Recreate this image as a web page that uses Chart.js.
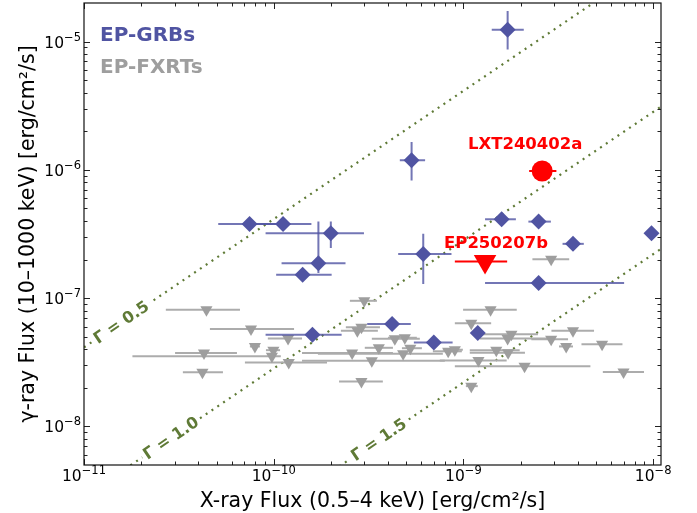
<!DOCTYPE html>
<html>
<head>
<meta charset="utf-8">
<title>EP-GRBs / EP-FXRTs flux plane</title>
<script src="https://cdn.jsdelivr.net/npm/chart.js@4.4.1/dist/chart.umd.min.js"></script>
<style>
  html, body { margin: 0; padding: 0; background: #fff; }
  #wrap { width: 697px; height: 513px; position: relative; }
</style>
</head>
<body>
<div id="wrap"><canvas id="fluxChart"></canvas></div>
<script>
/* ---------- data (erg/cm^2/s) ---------- */

// EP-GRBs: X-ray flux (0.5-4 keV) vs gamma-ray flux (10-1000 keV)
const grbX   = [1.71e-9, 5.33e-10, 7.46e-11, 1.12e-10, 2.00e-10, 1.72e-10, 1.42e-10, 1.60e-10, 4.21e-10, 6.98e-10, 6.14e-10, 1.59e-9, 2.49e-9, 3.78e-9, 9.80e-9, 2.49e-9, 1.19e-9];
const grbY   = [1.24e-5, 1.19e-6, 3.79e-7, 3.79e-7, 3.21e-7, 1.87e-7, 1.52e-7, 5.18e-8, 6.28e-8, 4.51e-8, 2.21e-7, 4.12e-7, 3.95e-7, 2.65e-7, 3.21e-7, 1.31e-7, 5.34e-8];
const grbXLo = [1.41e-9, 4.62e-10, 5.10e-11, 7.50e-11, 9.06e-11, 1.10e-10, 1.03e-10, 9.06e-11, 3.11e-10, 5.48e-10, 4.53e-10, 1.30e-9, 2.20e-9, 3.33e-9, null, 1.30e-9, null];
const grbXHi = [2.08e-9, 6.28e-10, 1.12e-10, 1.58e-10, 2.99e-10, 2.39e-10, 2.02e-10, 2.28e-10, 5.28e-10, 8.77e-10, 8.65e-10, 1.89e-9, 2.89e-9, 4.31e-9, null, 7.03e-9, null];
const grbYLo = [8.67e-6, 8.28e-7, null, null, 2.46e-7, 1.57e-7, null, null, null, null, 1.29e-7, null, null, null, null, null, null];
const grbYHi = [1.73e-5, 1.65e-6, null, null, 3.95e-7, 3.95e-7, null, null, null, null, 3.17e-7, null, null, null, null, null, null];

// EP-FXRTs: gamma-ray upper limits
const fxrtX   = [4.42e-11, 7.59e-11, 1.19e-10, 7.96e-11, 4.29e-11, 9.78e-11, 9.96e-11, 4.21e-11, 1.20e-10, 3.00e-10, 2.76e-10, 2.90e-10, 2.59e-10, 3.29e-10, 2.90e-10, 4.35e-10, 4.91e-10, 3.58e-10, 5.25e-10, 4.81e-10, 8.31e-10, 9.01e-10, 1.39e-9, 1.10e-9, 1.79e-9, 1.71e-9, 1.49e-9, 1.72e-9, 1.20e-9, 2.10e-9, 1.10e-9, 2.90e-9, 3.78e-9, 2.90e-9, 3.48e-9, 5.38e-9, 6.98e-9];
const fxrtY   = [8.11e-8, 5.74e-8, 4.84e-8, 4.20e-8, 3.73e-8, 3.52e-8, 3.93e-8, 2.64e-8, 3.15e-8, 9.53e-8, 5.57e-8, 5.93e-8, 3.73e-8, 3.25e-8, 2.24e-8, 4.82e-8, 4.91e-8, 4.10e-8, 4.07e-8, 3.69e-8, 3.85e-8, 3.96e-8, 8.11e-8, 6.37e-8, 5.23e-8, 4.84e-8, 3.93e-8, 3.75e-8, 3.27e-8, 2.94e-8, 2.06e-8, 2.01e-7, 5.57e-8, 4.78e-8, 4.20e-8, 4.37e-8, 2.66e-8];
const fxrtXLo = [2.70e-11, 4.61e-11, 9.31e-11, 7.49e-11, 3.02e-11, 1.80e-11, 9.10e-11, 3.32e-11, 7.05e-11, 2.52e-10, 2.26e-10, 2.40e-10, 1.41e-10, 1.41e-10, 2.21e-10, 3.29e-10, 4.00e-10, 3.02e-10, 4.74e-10, 1.71e-10, 6.90e-10, 7.79e-10, 9.96e-10, 9.01e-10, 1.22e-9, 1.22e-9, 1.08e-9, 1.08e-9, 7.51e-10, 9.01e-10, 1.03e-9, 2.31e-9, 2.91e-9, 2.28e-9, 3.19e-9, 4.19e-9, 5.43e-9];
const fxrtXHi = [6.64e-11, 1.28e-10, 1.41e-10, 8.46e-11, 6.40e-11, 1.09e-10, 1.08e-10, 5.40e-11, 1.91e-10, 3.50e-10, 3.54e-10, 3.63e-10, 4.25e-10, 7.98e-10, 3.76e-10, 5.89e-10, 5.68e-10, 4.25e-10, 6.04e-10, 7.79e-10, 9.81e-10, 9.93e-10, 1.91e-9, 1.40e-9, 2.47e-9, 2.85e-9, 1.98e-9, 2.11e-9, 1.69e-9, 4.67e-9, 1.19e-9, 3.61e-9, 4.88e-9, 3.56e-9, 3.78e-9, 6.89e-9, 8.95e-9];

// highlighted events
const redNames = ['LXT240402a', 'EP250207b'];
const redX     = [2.60e-9, 1.30e-9];
const redY     = [9.8e-7, 1.93e-7];
const redXLo   = [2.22e-9, 9.01e-10];
const redXHi   = [3.09e-9, 1.70e-9];

// power-law photon index lines: F(10-1000 keV) = ratio * F(0.5-4 keV)
const gammaIndex = ['0.5', '1.0', '1.5'];
const gammaRatio = [4132, 282.9, 22.01];

// axes
const xRange = [1e-11, 1.1e-8];
const yRange = [5e-9, 2e-5];
const xTickValues = [1e-11, 1e-10, 1e-9, 1e-8];
const xTickExp    = ['\u221211', '\u221210', '\u22129', '\u22128'];
const yTickValues = [1e-8, 1e-7, 1e-6, 1e-5];
const yTickExp    = ['\u22128', '\u22127', '\u22126', '\u22125'];

/* ---------- styling ---------- */
const FONT = "'DejaVu Sans', sans-serif";
const BLUE = '#5054a2';
const GREY = '#9e9e9e';
const RED = '#ff0000';
const OLIVE = '#5f7a36';

// where along each Γ line its label sits (x value)
const gammaLabelX = [1.57e-11, 2.87e-11, 3.58e-10];
// label offsets (px) from the red markers
const redLabelOffset = [[-17, -22], [11, -14]];

/* ---------- plugins ---------- */

// horizontal / vertical error bars, drawn just under each dataset's markers
const errorBarPlugin = {
    id: 'errorBars',
    beforeDatasetDraw(chart, args) {
        const ds = chart.data.datasets[args.index];
        if (!ds.errorBars) return;
        const { ctx, chartArea: a, scales: { x, y } } = chart;
        const eb = ds.errorBars;
        ctx.save();
        ctx.beginPath();
        ctx.rect(a.left, a.top, a.right - a.left, a.bottom - a.top);
        ctx.clip();
        ctx.strokeStyle = eb.color;
        ctx.lineWidth = eb.width;
        ds.data.forEach((pt, i) => {
            const px = x.getPixelForValue(pt.x);
            const py = y.getPixelForValue(pt.y);
            ctx.beginPath();
            if (eb.xLo[i] != null) {
                ctx.moveTo(x.getPixelForValue(eb.xLo[i]), py);
                ctx.lineTo(x.getPixelForValue(eb.xHi[i]), py);
            }
            if (eb.yLo && eb.yLo[i] != null) {
                ctx.moveTo(px, y.getPixelForValue(eb.yHi[i]));
                ctx.lineTo(px, y.getPixelForValue(eb.yLo[i]));
            }
            ctx.stroke();
        });
        ctx.restore();
    }
};

// rotated "Γ = n" labels sitting on the dotted lines
const gammaLabelPlugin = {
    id: 'gammaLabels',
    afterDatasetDraw(chart, args) {
        const ds = chart.data.datasets[args.index];
        if (!ds.gammaLabel) return;
        const { ctx, scales: { x, y } } = chart;
        const p0 = ds.data[0], p1 = ds.data[1];
        const ang = Math.atan2(y.getPixelForValue(p1.y) - y.getPixelForValue(p0.y),
                               x.getPixelForValue(p1.x) - x.getPixelForValue(p0.x));
        const lx = x.getPixelForValue(ds.gammaLabel.x);
        const ly = y.getPixelForValue(ds.gammaLabel.x * ds.ratio);
        ctx.save();
        ctx.translate(lx, ly);
        ctx.rotate(ang);
        ctx.font = `bold 16px ${FONT}`;
        const w = ctx.measureText(ds.gammaLabel.text).width;
        ctx.fillStyle = '#fff';
        ctx.fillRect(-w / 2 - 3, -8, w + 6, 16);
        ctx.fillStyle = OLIVE;
        ctx.textAlign = 'center';
        ctx.textBaseline = 'middle';
        ctx.fillText(ds.gammaLabel.text, 0, 1);
        ctx.restore();
    }
};

function minorValues(range) {
    const out = [];
    const lo = Math.floor(Math.log10(range[0])), hi = Math.ceil(Math.log10(range[1]));
    for (let d = lo; d <= hi; d++) {
        for (let k = 2; k <= 9; k++) {
            const v = k * Math.pow(10, d);
            if (v > range[0] && v < range[1]) out.push(v);
        }
    }
    return out;
}

// "10" with a raised exponent, matplotlib style
function drawPow(ctx, exp, x, baseline, align) {
    const base = `15.5px ${FONT}`, sup = `11.5px ${FONT}`;
    ctx.font = base;
    const wb = ctx.measureText('10').width;
    ctx.font = sup;
    const we = ctx.measureText(exp).width;
    const x0 = align === 'center' ? x - (wb + we) / 2 : x - (wb + we);
    ctx.textAlign = 'left';
    ctx.textBaseline = 'alphabetic';
    ctx.font = base;
    ctx.fillText('10', x0, baseline);
    ctx.font = sup;
    ctx.fillText(exp, x0 + wb, baseline - 7);
}

// frame, inward ticks on all sides, tick labels, titles and text labels
const frameAxesPlugin = {
    id: 'frameAxes',
    afterDraw(chart) {
        const { ctx, chartArea: a, scales: { x, y } } = chart;
        ctx.save();

        // ticks
        ctx.strokeStyle = '#222';
        ctx.lineWidth = 1;
        const tick = (vals, len) => {
            vals.forEach(v => {
                const px = Math.round(x.getPixelForValue(v)) + 0.5;
                ctx.moveTo(px, a.bottom); ctx.lineTo(px, a.bottom - len);
                ctx.moveTo(px, a.top); ctx.lineTo(px, a.top + len);
            });
        };
        const ytick = (vals, len) => {
            vals.forEach(v => {
                const py = Math.round(y.getPixelForValue(v)) + 0.5;
                ctx.moveTo(a.left, py); ctx.lineTo(a.left + len, py);
                ctx.moveTo(a.right, py); ctx.lineTo(a.right - len, py);
            });
        };
        ctx.beginPath();
        tick(xTickValues, 6); tick(minorValues(xRange), 3.5);
        ytick(yTickValues, 6); ytick(minorValues(yRange), 3.5);
        ctx.stroke();

        // frame
        ctx.strokeStyle = '#111';
        ctx.lineWidth = 1.2;
        ctx.strokeRect(a.left, a.top, a.right - a.left, a.bottom - a.top);

        // tick labels
        ctx.fillStyle = '#000';
        xTickValues.forEach((v, i) => drawPow(ctx, xTickExp[i], x.getPixelForValue(v), a.bottom + 15.5, 'center'));
        yTickValues.forEach((v, i) => drawPow(ctx, yTickExp[i], a.left - 3, y.getPixelForValue(v) + 6, 'right'));

        // axis titles
        ctx.font = `20.5px ${FONT}`;
        ctx.textAlign = 'center';
        ctx.textBaseline = 'alphabetic';
        ctx.fillText('X-ray Flux (0.5\u20134 keV) [erg/cm\u00b2/s]', (a.left + a.right) / 2, 506.5);
        ctx.save();
        ctx.translate(33.5, (a.top + a.bottom) / 2);
        ctx.rotate(-Math.PI / 2);
        ctx.fillText('\u03b3-ray Flux (10\u20131000 keV) [erg/cm\u00b2/s]', 0, 0);
        ctx.restore();

        // legend text
        ctx.textAlign = 'left';
        ctx.font = `bold 20px ${FONT}`;
        ctx.fillStyle = BLUE;
        ctx.fillText('EP-GRBs', a.left + 16, 41);
        ctx.fillStyle = GREY;
        ctx.fillText('EP-FXRTs', a.left + 16, 72.5);

        // event names next to the red markers
        ctx.textAlign = 'center';
        ctx.font = `bold 16.5px ${FONT}`;
        ctx.fillStyle = RED;
        redNames.forEach((name, i) => {
            const px = x.getPixelForValue(redX[i]), py = y.getPixelForValue(redY[i]);
            ctx.fillText(name, px + redLabelOffset[i][0], py + redLabelOffset[i][1]);
        });

        ctx.restore();
    }
};

/* ---------- datasets ---------- */

const pts = (xs, ys) => xs.map((v, i) => ({ x: v, y: ys[i] }));

const gammaSets = gammaIndex.map((g, i) => ({
    label: 'Γ = ' + g,
    data: [{ x: xRange[0], y: xRange[0] * gammaRatio[i] }, { x: xRange[1], y: xRange[1] * gammaRatio[i] }],
    showLine: true,
    borderColor: OLIVE,
    borderWidth: 2.2,
    borderDash: [2, 5],
    pointRadius: 0,
    order: 3,
    ratio: gammaRatio[i],
    gammaLabel: { text: 'Γ = ' + g, x: gammaLabelX[i] }
}));

new Chart(document.getElementById('fluxChart'), {
    type: 'scatter',
    data: {
        datasets: [
            {
                label: 'Highlighted',
                data: pts(redX, redY),
                pointStyle: ['circle', 'triangle'],
                pointRadius: [10.5, 13],
                pointRotation: [0, 180],
                backgroundColor: RED,
                borderColor: RED,
                borderWidth: 0,
                order: 0,
                errorBars: { xLo: redXLo, xHi: redXHi, color: RED, width: 2 }
            },
            {
                label: 'EP-GRBs',
                data: pts(grbX, grbY),
                pointStyle: 'rectRot',
                pointRadius: 8,
                backgroundColor: BLUE,
                borderColor: BLUE,
                borderWidth: 0,
                order: 1,
                errorBars: { xLo: grbXLo, xHi: grbXHi, yLo: grbYLo, yHi: grbYHi, color: 'rgba(80,84,162,0.8)', width: 2 }
            },
            {
                label: 'EP-FXRTs',
                data: pts(fxrtX, fxrtY),
                pointStyle: 'triangle',
                pointRadius: 7,
                pointRotation: 180,
                backgroundColor: GREY,
                borderColor: GREY,
                borderWidth: 0,
                order: 2,
                errorBars: { xLo: fxrtXLo, xHi: fxrtXHi, color: '#acacac', width: 2 }
            },
            ...gammaSets
        ]
    },
    options: {
        responsive: true,
        maintainAspectRatio: false,
        animation: false,
        events: [],
        layout: { autoPadding: false, padding: { left: 84, right: 36, top: 3, bottom: 48 } },
        plugins: {
            legend: { display: false },
            tooltip: { enabled: false }
        },
        scales: {
            x: { type: 'logarithmic', min: xRange[0], max: xRange[1], display: false },
            y: { type: 'logarithmic', min: yRange[0], max: yRange[1], display: false }
        }
    },
    plugins: [errorBarPlugin, gammaLabelPlugin, frameAxesPlugin]
});
</script>
</body>
</html>
